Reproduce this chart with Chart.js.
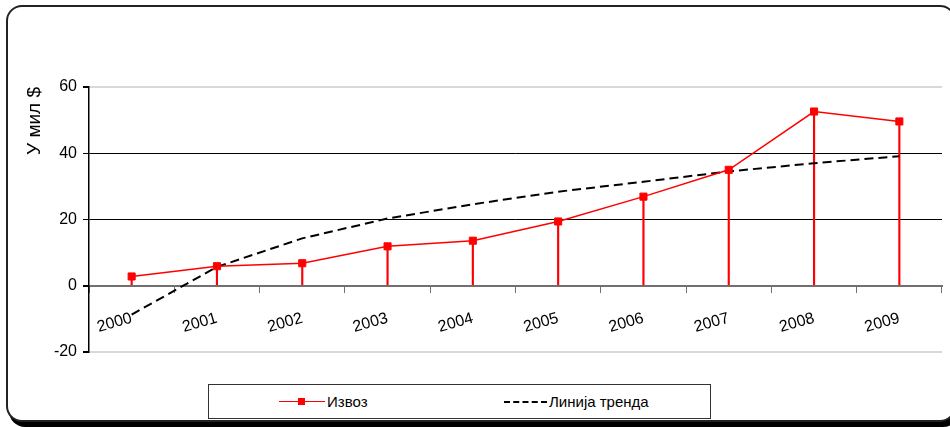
<!DOCTYPE html>
<html>
<head>
<meta charset="utf-8">
<script src="https://cdn.jsdelivr.net/npm/chart.js@4"></script>
<style>
  body { margin: 0; width: 950px; height: 427px; overflow: hidden; background: #fff; position: relative; font-family: "Liberation Sans", Arial, sans-serif; }
  #okvir { position: absolute; left: 6px; top: 5px; width: 950px; height: 417px; box-sizing: border-box; border: 2px solid #222; border-radius: 16px; box-shadow: 3px 5px 0 #000; background: #fff; }
  #grafik { position: absolute; left: 0; top: 0; }
  #legenda { position: absolute; left: 208px; top: 384px; width: 503px; height: 35px; box-sizing: border-box; border: 1px solid #333; background: #fff; font-size: 15px; color: #000; }
  .stavka { position: absolute; top: 0; height: 33px; line-height: 33px; }
  .linija { position: absolute; top: 16px; height: 0; }
</style>
</head>
<body>
<div id="okvir"></div>
<canvas id="grafik" width="950" height="427"></canvas>
<div id="legenda">
  <div class="linija" style="left:70px; width:46px; border-top:1.5px solid #ff0000;"></div>
  <div style="position:absolute; left:89px; top:13px; width:7px; height:7px; background:#ff0000;"></div>
  <div class="stavka" style="left:118px;">Извоз</div>
  <div class="linija" style="left:295px; width:43px; border-top:2px dashed #000;"></div>
  <div class="stavka" style="left:340px;">Линија тренда</div>
</div>
<script>
// godine i vrednosti sa grafika
const godine = ['2000', '2001', '2002', '2003', '2004', '2005', '2006', '2007', '2008', '2009'];
const izvoz = [2.8, 5.9, 6.8, 11.9, 13.6, 19.4, 26.9, 35.0, 52.6, 49.6];
const trend = [-8.7, 5.7, 14.3, 20.3, 24.6, 28.4, 31.4, 34.5, 37.0, 39.1];
const yTicks = [-20, 0, 20, 40, 60];

const crvena = '#ff0000';

const ctx = document.getElementById('grafik').getContext('2d');
const grafik = new Chart(ctx, {
  type: 'bar',
  data: {
    labels: godine,
    datasets: [
      {
        type: 'line',
        label: 'Извоз',
        data: izvoz,
        borderColor: crvena,
        borderWidth: 1.5,
        pointStyle: 'rect',
        pointRadius: 5,
        pointBackgroundColor: crvena,
        pointBorderColor: crvena,
        pointBorderWidth: 1,
        tension: 0,
        order: 0
      },
      {
        type: 'line',
        label: 'Линија тренда',
        data: trend,
        borderColor: '#000',
        borderWidth: 2,
        borderDash: [9, 5],
        pointRadius: 0,
        tension: 0,
        order: 1
      },
      {
        // vertikalne linije od tacke do nule
        type: 'bar',
        label: 'stems',
        data: izvoz,
        backgroundColor: crvena,
        barThickness: 1.5,
        order: 2
      }
    ]
  },
  options: {
    responsive: false,
    animation: false,
    layout: { padding: { left: 0, right: 8, top: 87, bottom: 75 } },
    plugins: {
      legend: { display: false },
      tooltip: { enabled: false }
    },
    scales: {
      x: {
        type: 'category',
        offset: true,
        position: { y: 0 },
        grid: { offset: true, drawOnChartArea: false, tickLength: 6, color: '#707070' },
        border: { color: '#707070', width: 2 },
        ticks: {
          color: '#000',
          font: { family: 'Liberation Sans', size: 16 },
          maxRotation: 16,
          minRotation: 16,
          padding: 17
        }
      },
      y: {
        min: -20,
        max: 60,
        afterBuildTicks: s => { s.ticks = yTicks.map(v => ({ value: v })); },
        afterFit: s => { s.width = 89; },
        ticks: {
          color: '#000',
          font: { family: 'Liberation Sans', size: 16 },
          padding: 6
        },
        grid: {
          tickLength: 6,
          tickColor: '#000',
          color: c => {
            const v = c.tick.value;
            if (v === 0) return '#707070';
            if (v === 20 || v === 40) return '#000';
            return '#d9d9d9';
          },
          lineWidth: c => (c.tick.value === 20 || c.tick.value === 40) ? 1 : 2
        },
        border: { color: '#000', width: 1.5 },
        title: {
          display: true,
          text: 'У мил $',
          color: '#000',
          align: 'end',
          font: { family: 'Liberation Sans', size: 19 },
          padding: { top: 23, bottom: 0 }
        }
      }
    }
  }
});
</script>
</body>
</html>
